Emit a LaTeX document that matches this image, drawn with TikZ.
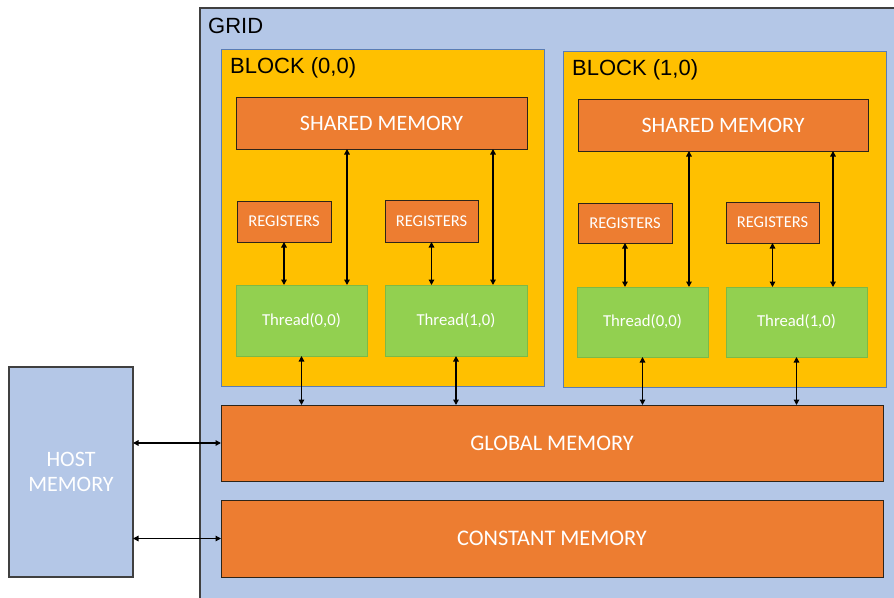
\documentclass[tikz,border=0pt]{standalone}
\usepackage{fontspec}
\setmainfont{Carlito}
\newfontfamily\labelfont{Liberation Sans}
\usetikzlibrary{arrows.meta}

\definecolor{gridblue}{HTML}{B4C7E7}
\definecolor{gridedge}{HTML}{404040}
\definecolor{blockfill}{HTML}{FFC000}
\definecolor{blockedge}{HTML}{5A7DB5}
\definecolor{memfill}{HTML}{ED7D31}
\definecolor{memedge}{HTML}{2E2418}
\definecolor{thfill}{HTML}{92D050}
\definecolor{thedge}{HTML}{7DB946}

\tikzset{
  box/.style={rectangle, inner sep=0pt, outer sep=0pt, text=white, align=center},
  blockbox/.style={box, fill=blockfill, draw=blockedge, line width=0.9pt},
  membox/.style={box, fill=memfill, draw=memedge, line width=1pt},
  thbox/.style={box, fill=thfill, draw=thedge, line width=1pt,
                font=\fontsize{16.7}{20}\selectfont},
  hostbox/.style={box, fill=gridblue, draw=gridedge, line width=1.1pt,
                  font=\fontsize{22}{25}\selectfont},
  biglabel/.style={anchor=base west, inner sep=0pt, text=black,
                   font=\labelfont\fontsize{22}{26}\selectfont},
  link/.style={line width=1.4pt, {Triangle[length=5.5pt,width=5.5pt]}-{Triangle[length=5.5pt,width=5.5pt]}},
  bigfont/.style={font=\fontsize{22.3}{26}\selectfont},
  smfont/.style={font=\fontsize{22}{26}\selectfont},
  regfont/.style={font=\fontsize{16.5}{20}\selectfont}
}

\begin{document}
\begin{tikzpicture}[x=1pt, y=-1pt]
\useasboundingbox (0,0) rectangle (894,597);

% grid area (runs off the right and bottom edges)
\fill[gridblue] (200,8) rectangle (900,600);
\draw[gridedge, line width=1.2pt] (200,600) -- (200,8) -- (900,8);
\node[biglabel] (gridlbl) at (208,33) {GRID};

% host memory
\node[hostbox, minimum width=124pt, minimum height=210pt] (host) at (71,472) {HOST\\MEMORY};

% blocks
\node[blockbox, minimum width=323pt, minimum height=337pt] (blk0) at (382.5,217.5) {};
\node[blockbox, minimum width=323pt, minimum height=336pt] (blk1) at (724.5,219) {};
\node[biglabel] (blk0lbl) at (230,73) {BLOCK (0,0)};
\node[biglabel] (blk1lbl) at (572,75) {BLOCK (1,0)};

% shared memories
\node[membox, smfont, minimum width=291pt, minimum height=52pt] (sm0) at (381.5,123) {SHARED MEMORY};
\node[membox, smfont, minimum width=290pt, minimum height=52pt] (sm1) at (723,125) {SHARED MEMORY};

% registers
\node[membox, regfont, minimum width=94pt, minimum height=41pt] (reg00) at (284,221.5) {REGISTERS};
\node[membox, regfont, minimum width=93pt, minimum height=42pt] (reg10) at (431.5,221) {REGISTERS};
\node[membox, regfont, minimum width=94pt, minimum height=40pt] (reg01) at (625,223) {REGISTERS};
\node[membox, regfont, minimum width=93pt, minimum height=41pt] (reg11) at (772.5,222.5) {REGISTERS};

% threads
\node[thbox, minimum width=131pt, minimum height=71pt] (th00) at (301.5,320.5) {Thread(0,0)};
\node[thbox, minimum width=142pt, minimum height=71pt] (th10) at (456,320.5) {Thread(1,0)};
\node[thbox, minimum width=131pt, minimum height=70pt] (th01) at (642.5,322) {Thread(0,0)};
\node[thbox, minimum width=141pt, minimum height=70pt] (th11) at (796.5,322) {Thread(1,0)};

% global and constant memory
\node[membox, bigfont, minimum width=662pt, minimum height=76pt] (glob) at (552,443) {GLOBAL MEMORY};
\node[membox, bigfont, minimum width=662pt, minimum height=77pt] (const) at (552,538.5) {CONSTANT MEMORY};

% register <-> thread
\draw[link] (reg00.south) -- (reg00.south |- th00.north);
\draw[link] (reg10.south) -- (reg10.south |- th10.north);
\draw[link] (reg01.south) -- (reg01.south |- th01.north);
\draw[link] (reg11.south) -- (reg11.south |- th11.north);

% shared memory <-> thread
\coordinate (s00) at ([xshift=-20pt]th00.north east);
\coordinate (s10) at ([xshift=-34pt]th10.north east);
\coordinate (s01) at ([xshift=-19pt]th01.north east);
\coordinate (s11) at ([xshift=-34pt]th11.north east);
\draw[link] (s00 |- sm0.south) -- (s00);
\draw[link] (s10 |- sm0.south) -- (s10);
\draw[link] (s01 |- sm1.south) -- (s01);
\draw[link] (s11 |- sm1.south) -- (s11);

% thread <-> global memory
\draw[link] (th00.south) -- (th00.south |- glob.north);
\draw[link] (th10.south) -- (th10.south |- glob.north);
\draw[link] (th01.south) -- (th01.south |- glob.north);
\draw[link] (th11.south) -- (th11.south |- glob.north);

% host <-> device memories
\draw[link] (host.east |- glob.west) -- (glob.west);
\draw[link] (host.east |- const.west) -- (const.west);
\end{tikzpicture}
\end{document}
